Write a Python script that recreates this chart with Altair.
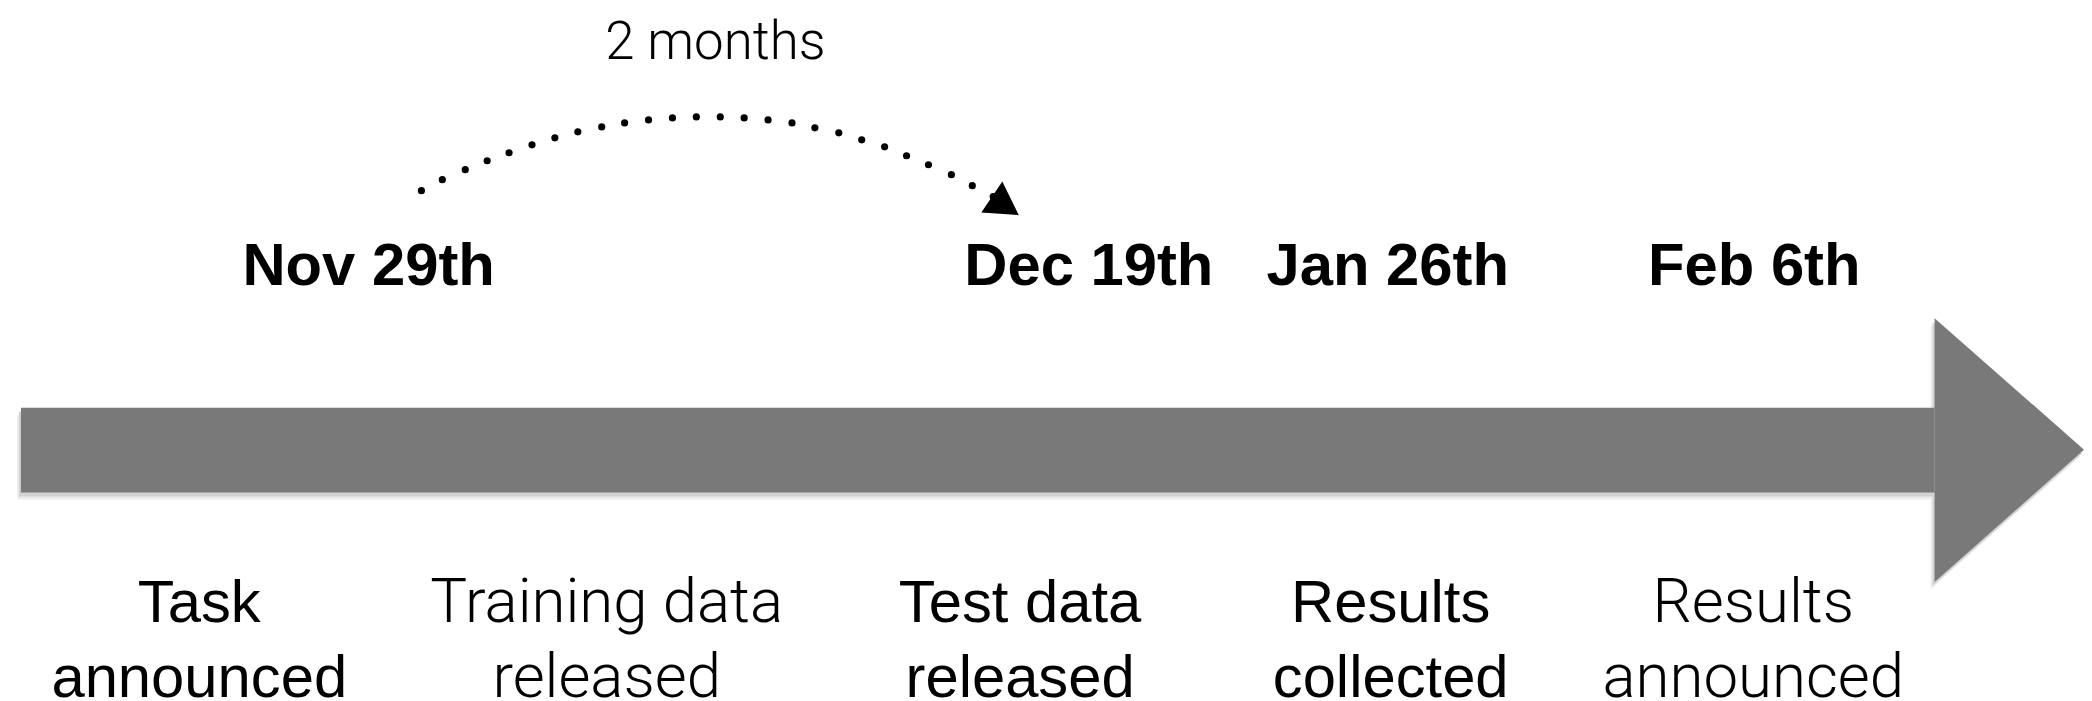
import altair as alt
import pandas as pd

# ---- data ----
# milestone dates shown in bold above the arrow (x = horizontal position on the timeline)
date_labels = ["Nov 29th", "Dec 19th", "Jan 26th", "Feb 6th"]
date_x = [370, 1093, 1393, 1761]

# events shown below the arrow
event_labels = ["Task\nannounced", "Training data\nreleased", "Test data\nreleased",
                "Results\ncollected", "Results\nannounced"]
event_x = [200, 609, 1024, 1396, 1760]
event_light = [False, True, False, False, True]

# dotted "2 months" arc (Nov 29th -> Dec 19th): dot positions
arc_x = [423, 444, 467, 489, 511, 534, 557, 580, 604, 627, 651, 675, 699, 723,
         747, 771, 795, 818, 842, 865, 888, 910, 932, 955, 976, 997]
arc_y = [190, 179, 169, 160, 152, 144, 137, 131, 126, 122, 119, 117, 116, 116,
         117, 119, 122, 127, 132, 139, 146, 155, 164, 174, 185, 196]
arc_label = "2 months"

# timeline arrow geometry
arrow_start, arrow_head_start, arrow_tip = 21, 1942, 2092
body_top, body_bottom = 408, 493
head_top, head_bottom, head_mid = 318, 583, 450

W, H = 2084, 693
xs = alt.Scale(domain=[8, 2092], nice=False, zero=False)
ys = alt.Scale(domain=[8, 701], nice=False, zero=False, reverse=True)


def X(f):
    return alt.X(f, type="quantitative", scale=xs, axis=None)


def Y(f):
    return alt.Y(f, type="quantitative", scale=ys, axis=None)


GRAY = "#797979"

# body + shadow
body = pd.DataFrame({"x": [arrow_start], "x2": [arrow_head_start],
                     "y": [body_top], "y2": [body_bottom]})
head = pd.DataFrame({"x": [arrow_head_start, arrow_tip],
                     "y": [head_top, head_mid], "y2": [head_bottom, head_mid]})

shadow_layers = []
for dx, dy, col in [(-4, 7, "#ededed"), (-2, 4, "#d2d2d2")]:
    b = body.copy()
    b["x"] += dx
    b["y"] += dy
    b["y2"] += dy
    h = head.copy()
    h["x"] += dx
    h["y"] += dy
    h["y2"] += dy
    shadow_layers.append(
        alt.Chart(b).mark_rect(color=col).encode(x=X("x"), x2=alt.X2("x2"), y=Y("y"), y2=alt.Y2("y2")))
    shadow_layers.append(
        alt.Chart(h).mark_area(color=col, interpolate="linear").encode(x=X("x"), y=Y("y"), y2=alt.Y2("y2")))

body_layer = alt.Chart(body).mark_rect(color=GRAY).encode(
    x=X("x"), x2=alt.X2("x2"), y=Y("y"), y2=alt.Y2("y2"))
head_layer = alt.Chart(head).mark_area(color=GRAY, interpolate="linear").encode(
    x=X("x"), y=Y("y"), y2=alt.Y2("y2"))

# dates
dates = pd.DataFrame({"label": date_labels, "x": date_x, "y": [285] * len(date_x)})
date_layer = alt.Chart(dates).mark_text(
    font="Liberation Sans", fontSize=60, fontWeight="bold", align="center",
    baseline="alphabetic", color="#000000").encode(x=X("x"), y=Y("y"), text="label:N")

# events
events = pd.DataFrame({"label": event_labels, "x": event_x, "light": event_light,
                       "y": [623] * len(event_x)})
ev_reg = alt.Chart(events[~events["light"]]).mark_text(
    font="Liberation Sans", fontSize=60, align="center", baseline="alphabetic",
    lineBreak="\n", lineHeight=75, color="#000000").encode(x=X("x"), y=Y("y"), text="label:N")
ev_light = alt.Chart(events[events["light"]]).mark_text(
    font="Roboto", fontSize=62, fontWeight=300, align="center", baseline="alphabetic",
    lineBreak="\n", lineHeight=75, color="#000000").encode(x=X("x"), y=Y("y"), text="label:N")

# arc dots
arc = pd.DataFrame({"x": arc_x, "y": arc_y})
arc_layer = alt.Chart(arc).mark_circle(color="#000000", size=52, opacity=1).encode(
    x=X("x"), y=Y("y"))
tri = pd.DataFrame({"x": [1005], "y": [197]})
tri_layer = alt.Chart(tri).mark_point(
    shape="triangle-up", filled=True, size=1420, angle=4, color="#000000",
    opacity=1).encode(x=X("x"), y=Y("y"))
lab = pd.DataFrame({"label": [arc_label], "x": [718], "y": [58]})
lab_layer = alt.Chart(lab).mark_text(
    font="Roboto", fontSize=53, fontWeight=300, align="center", baseline="alphabetic",
    color="#000000").encode(x=X("x"), y=Y("y"), text="label:N")

chart = alt.layer(
    *shadow_layers, body_layer, head_layer, date_layer, ev_reg, ev_light,
    arc_layer, tri_layer, lab_layer
).properties(
    width=W, height=H, padding=0, autosize=alt.AutoSizeParams(type="none"),
    background="#ffffff"
).configure_view(stroke=None)

chart.save("out.html", embed_options={"renderer": "svg", "actions": False})
